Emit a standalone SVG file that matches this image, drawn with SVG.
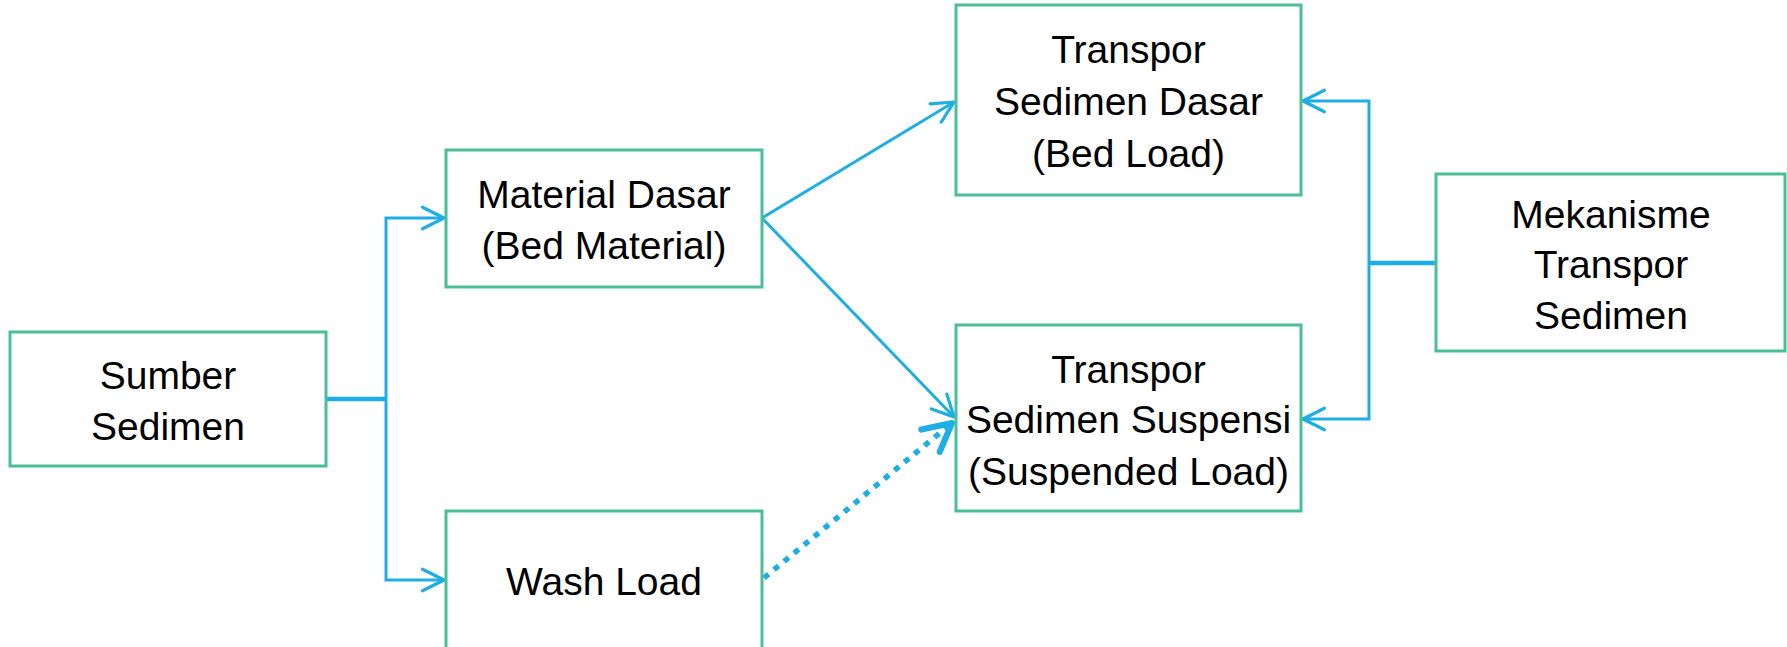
<svg xmlns="http://www.w3.org/2000/svg" width="1787" height="647" viewBox="0 0 1787 647">
<style>
.box{fill:#fff;stroke:#4ABF97;stroke-width:3}
.t{font-family:"Liberation Sans",Arial,sans-serif;font-size:39px;fill:#000;text-anchor:middle}
.c{fill:none;stroke:#1EAEE3;stroke-width:3}
.thick{stroke-width:4.5}
.dot{stroke-width:5.5;stroke-dasharray:6 7}
</style>
<defs>
<marker id="arr" markerUnits="userSpaceOnUse" markerWidth="30" markerHeight="30" viewBox="-24 -14 28 28" refX="0" refY="0" orient="auto">
<path d="M-20 -10 L0 0 L-20 10" fill="none" stroke="#1EAEE3" stroke-width="3" stroke-linecap="round" stroke-linejoin="round"/>
</marker>
<marker id="arrb" markerUnits="userSpaceOnUse" markerWidth="40" markerHeight="40" viewBox="-32 -18 36 36" refX="0" refY="0" orient="auto">
<path d="M-25 -13 L0 0 L-25 13" fill="none" stroke="#1EAEE3" stroke-width="5.5" stroke-linecap="round" stroke-linejoin="round"/>
</marker>
</defs>
<g id="connectors">
<path class="c thick" d="M326 399 H386"/>
<path class="c" d="M386 399 V218 H444" marker-end="url(#arr)"/>
<path class="c" d="M386 399 V580 H444" marker-end="url(#arr)"/>
<path class="c" d="M762 218 L954 102" marker-end="url(#arr)"/>
<path class="c" d="M762 218 L954 417" marker-end="url(#arr)"/>
<path class="c dot" d="M764 578 L952 423" marker-end="url(#arrb)"/>
<path class="c thick" d="M1436 263 H1369"/>
<path class="c" d="M1369 263 V101 H1303" marker-end="url(#arr)"/>
<path class="c" d="M1369 263 V419 H1303" marker-end="url(#arr)"/>
</g>
<g id="sumber">
<rect class="box" x="10" y="332" width="316" height="134"/>
<text class="t" x="168" y="389">Sumber</text>
<text class="t" x="168" y="440">Sedimen</text>
</g>
<g id="material">
<rect class="box" x="446" y="150" width="316" height="137"/>
<text class="t" x="604" y="208">Material Dasar</text>
<text class="t" x="604" y="259">(Bed Material)</text>
</g>
<g id="wash">
<rect class="box" x="446" y="511" width="316" height="160"/>
<text class="t" x="604" y="595">Wash Load</text>
</g>
<g id="bedload">
<rect class="box" x="956" y="5" width="345" height="190"/>
<text class="t" x="1128.5" y="63">Transpor</text>
<text class="t" x="1128.5" y="115">Sedimen Dasar</text>
<text class="t" x="1128.5" y="167">(Bed Load)</text>
</g>
<g id="suspended">
<rect class="box" x="956" y="325" width="345" height="186"/>
<text class="t" x="1128.5" y="383">Transpor</text>
<text class="t" x="1128.5" y="433">Sedimen Suspensi</text>
<text class="t" x="1128.5" y="485">(Suspended Load)</text>
</g>
<g id="mekanisme">
<rect class="box" x="1436" y="174" width="349" height="177"/>
<text class="t" x="1611" y="228">Mekanisme</text>
<text class="t" x="1611" y="278">Transpor</text>
<text class="t" x="1611" y="329">Sedimen</text>
</g>
</svg>
